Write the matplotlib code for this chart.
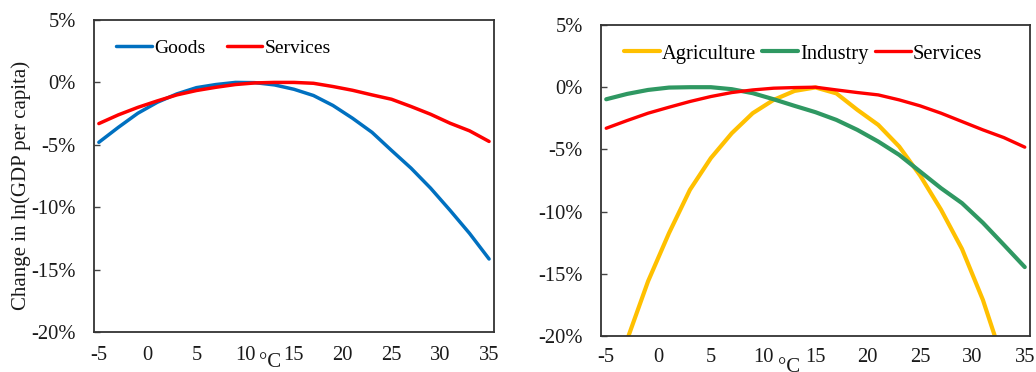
import matplotlib
matplotlib.use("Agg")
import matplotlib.pyplot as plt
from matplotlib.transforms import blended_transform_factory

plt.rcParams["font.family"] = ["Liberation Serif", "DejaVu Serif"]

# Temperature grid (°C)
temps = [-5, -3, -1, 1, 3, 5, 7, 9, 11, 13, 15, 17, 19, 21, 23, 25, 27, 29, 31, 33, 35]

# Left panel: goods vs services (% change in ln GDP per capita)
goods = [-4.8, -3.6, -2.47, -1.59, -0.92, -0.42, -0.17, 0.0, -0.02, -0.2, -0.55,
         -1.05, -1.85, -2.87, -4.0, -5.45, -6.87, -8.47, -10.25, -12.1, -14.15]
services_left = [-3.3, -2.6, -2.0, -1.48, -1.0, -0.65, -0.39, -0.17, -0.04, 0.0, 0.0,
                 -0.07, -0.33, -0.63, -1.0, -1.35, -1.93, -2.55, -3.27, -3.88, -4.73]

# Right panel: agriculture, industry, services
agriculture = [-25.0, -20.3, -15.6, -11.73, -8.25, -5.7, -3.7, -2.09, -1.02, -0.3, -0.02,
               -0.5, -1.82, -3.03, -4.77, -7.1, -9.85, -13.0, -17.1, -22.2, -28.0]
industry = [-0.97, -0.54, -0.22, -0.03, 0.0, 0.0, -0.16, -0.48, -0.97, -1.5, -2.01,
            -2.63, -3.43, -4.37, -5.44, -6.78, -8.12, -9.32, -10.9, -12.67, -14.46]
services_right = [-3.3, -2.68, -2.09, -1.61, -1.15, -0.75, -0.43, -0.22, -0.08, -0.03, 0.0,
                  -0.22, -0.43, -0.62, -1.02, -1.5, -2.09, -2.76, -3.43, -4.05, -4.82]

x_ticks = [-5, 0, 5, 10, 15, 20, 25, 30, 35]
y_ticks = [5, 0, -5, -10, -15, -20]
y_tick_labels = ["5%", "0%", "-5%", "-10%", "-15%", "-20%"]

BLUE = "#0070c0"
RED = "#ff0000"
GOLD = "#ffc000"
GREEN = "#2f9862"
TXT = "#1a1a1a"

fig = plt.figure(figsize=(10.36, 3.72), dpi=100)
ax1 = fig.add_axes([0.0907, 0.1075, 0.3861, 0.8387])
ax2 = fig.add_axes([0.5801, 0.0968, 0.4141, 0.8360])


def style_axes(ax, xpad):
    ax.set_xlim(-5.5, 35.5)
    ax.set_ylim(-20, 5)
    ax.set_xticks(x_ticks)
    ax.set_xticklabels([str(t) for t in x_ticks])
    ax.set_yticks(y_ticks)
    ax.set_yticklabels(y_tick_labels)
    ax.tick_params(axis="y", direction="in", length=4, width=1, color="#444444",
                   pad=13, labelsize=14.8, labelcolor=TXT)
    ax.tick_params(axis="x", length=0, pad=xpad, labelsize=14.8, labelcolor=TXT)
    for s in ax.spines.values():
        s.set_linewidth(1.3)
        s.set_color("#333333")
    return blended_transform_factory(ax.transData, ax.transAxes)


t1 = style_axes(ax1, 10)
ax1.plot(temps, goods, color=BLUE, lw=2.5, label="Goods", solid_capstyle="round",
         solid_joinstyle="round")
ax1.plot(temps, services_left, color=RED, lw=2.5, label="Services", solid_capstyle="round",
         solid_joinstyle="round")
ax1.text(12.5, -0.097, "°C", transform=t1, ha="center", va="center",
         fontsize=15, color=TXT)
ax1.set_ylabel("Change in ln(GDP per capita)", fontsize=15, color=TXT)
ax1.yaxis.set_label_coords(-0.157, 0.47)
ax1.legend(loc="center left", bbox_to_anchor=(0.055, 0.91), ncol=2, frameon=False,
           handlelength=1.85, handletextpad=0.1, columnspacing=1.1,
           borderpad=0, borderaxespad=0, fontsize=14)

t2 = style_axes(ax2, 9)
ax2.plot(temps, agriculture, color=GOLD, lw=3.0, label="Agriculture", solid_capstyle="round",
         solid_joinstyle="round")
ax2.plot(temps, industry, color=GREEN, lw=3.0, label="Industry", solid_capstyle="round",
         solid_joinstyle="round")
ax2.plot(temps, services_right, color=RED, lw=2.4, label="Services", solid_capstyle="round",
         solid_joinstyle="round")
ax2.text(12.5, -0.1, "°C", transform=t2, ha="center", va="center",
         fontsize=15, color=TXT)
ax2.legend(loc="center left", bbox_to_anchor=(0.053, 0.907), ncol=3, frameon=False,
           handlelength=1.75, handletextpad=0.1, columnspacing=0.3,
           borderpad=0, borderaxespad=0, fontsize=14.8)

fig.savefig("out.png", dpi=100)
